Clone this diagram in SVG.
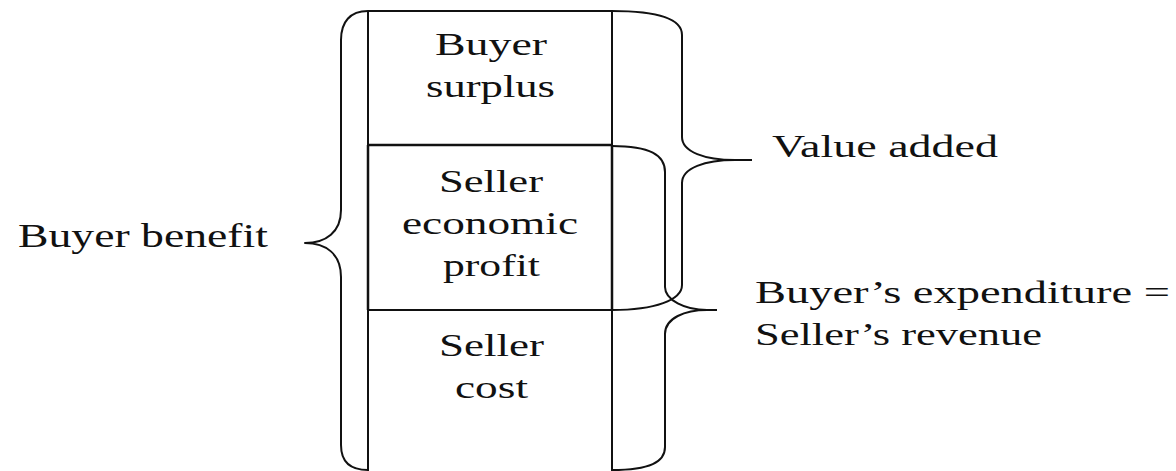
<svg xmlns="http://www.w3.org/2000/svg" width="1176" height="471" viewBox="0 0 1176 471">
  <style>
    .ln { fill: none; stroke: #111; stroke-width: 2; stroke-linecap: butt; stroke-linejoin: round; }
    .tx { font-family: "Liberation Serif", "Times New Roman", serif; font-size: 32px; fill: #111; }
  </style>
  <rect x="0" y="0" width="1176" height="471" fill="#fff"/>

  <!-- stacked value column -->
  <g id="cell-buyer-surplus">
    <path class="ln" d="M368,11 L612,11 M368,11 L368,145 M612,11 L612,145"/>
    <text class="tx" x="435" y="55" textLength="112" lengthAdjust="spacingAndGlyphs">Buyer</text>
    <text class="tx" x="426" y="97" textLength="129" lengthAdjust="spacingAndGlyphs">surplus</text>
  </g>
  <g id="cell-seller-profit">
    <path class="ln" d="M368,145 L612,145 M368,145 L368,310 M612,145 L612,310" style="stroke-width:2.5"/>
    <text class="tx" x="439" y="192" textLength="104" lengthAdjust="spacingAndGlyphs">Seller</text>
    <text class="tx" x="402" y="234" textLength="176" lengthAdjust="spacingAndGlyphs">economic</text>
    <text class="tx" x="443" y="276" textLength="97" lengthAdjust="spacingAndGlyphs">profit</text>
  </g>
  <g id="cell-seller-cost">
    <path class="ln" d="M368,310 L612,310 M368,310 L368,471 M612,310 L612,471"/>
    <text class="tx" x="439" y="356" textLength="105" lengthAdjust="spacingAndGlyphs">Seller</text>
    <text class="tx" x="455" y="398" textLength="73" lengthAdjust="spacingAndGlyphs">cost</text>
  </g>

  <!-- braces -->
  <g id="braces">
    <path id="brace-buyer-benefit" class="ln" d="M368,11 C350,11 341,22 341,40 L341,210 C341,232 326,243 305,243 C326,243 341,254 341,277 L341,445 C341,462 350,470 368,470"/>
    <path id="brace-value-added" class="ln" d="M612,11 C660,11 682,20 682,35 L682,137 C682,152 705,160 735,160 L752,160 M735,160 C705,160 682,168 682,183 L682,285 C682,300 655,310 612,310"/>
    <path id="brace-expenditure" class="ln" d="M612,146 C650,146 665,155 665,172 L665,287 C665,300 685,310 707,310 L717,310 M707,310 C685,310 665,318 665,334 L665,447 C665,462 650,470 612,470"/>
  </g>

  <!-- brace labels -->
  <g id="label-buyer-benefit">
    <text class="tx" x="18" y="247" textLength="250" lengthAdjust="spacingAndGlyphs" style="font-size:33px">Buyer benefit</text>
  </g>
  <g id="label-value-added">
    <text class="tx" x="772" y="157" textLength="226" lengthAdjust="spacingAndGlyphs">Value added</text>
  </g>
  <g id="label-expenditure">
    <text class="tx" x="755" y="303" textLength="415" lengthAdjust="spacingAndGlyphs">Buyer’s expenditure =</text>
    <text class="tx" x="755" y="345" textLength="287" lengthAdjust="spacingAndGlyphs">Seller’s revenue</text>
  </g>
</svg>
